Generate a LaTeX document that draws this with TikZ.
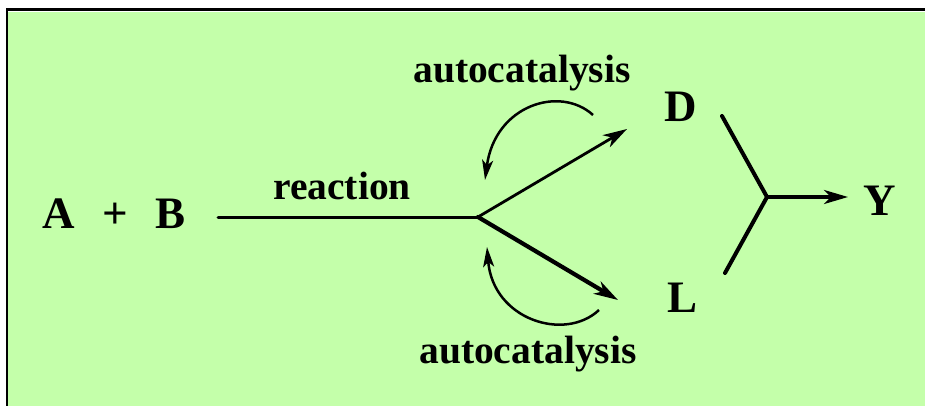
\documentclass[tikz,border=0pt]{standalone}
\usepackage{fontspec}
\setmainfont{Liberation Serif}
\usetikzlibrary{arrows.meta}
\definecolor{bg}{RGB}{196,255,170}
\begin{document}
\begin{tikzpicture}[x=1pt,y=-1pt,
  big/.style={font=\fontsize{45}{54}\selectfont\bfseries, inner sep=0pt, anchor=base},
  lbl/.style={font=\fontsize{39.5}{47}\selectfont\bfseries, inner sep=0pt, anchor=base},
  tiparrow/.style={-{Stealth[length=24pt,width=14pt,inset=7pt]}},
  ctiparrow/.style={-{Stealth[length=20pt,width=11pt,inset=5pt]}}]
\useasboundingbox (0,0) rectangle (925,406);
\fill[white] (0,0) rectangle (925,406);
\fill[bg] (8.3,12.5) rectangle (925,406);
\fill[black] (6,8) rectangle (925,11);
\fill[black] (6,8) rectangle (8.3,406);
% texts
\node[big] (A) at (59,228) {A};
\node[big] (plus) at (115,228) {+};
\node[big] (B) at (171,228) {B};
\node[big] (D) at (681,122) {D};
\node[big] (L) at (682,312) {L};
\node[big] (Y) at (880,215) {Y};
\node[lbl] (reac) at (342,199) {reaction};
\node[lbl] (ac1) at (522,83) {autocatalysis};
\node[lbl] (ac2) at (528,363) {autocatalysis};
% coordinates
\coordinate (s0) at (218,217);
\coordinate (j) at (478,217);
\coordinate (dt) at (627,129);
\coordinate (lt) at (618,300);
\coordinate (c1s) at (593,115);
\coordinate (c1e) at (485,180);
\coordinate (c2s) at (599,310);
\coordinate (c2e) at (487,247);
\coordinate (ds) at (722,116);
\coordinate (ls) at (725,273);
\coordinate (yj) at (767,197);
\coordinate (yt) at (848,197);
% connectors
\draw[line width=3pt, line cap=round] (s0) -- (j);
\draw[line width=2.8pt, line cap=round, tiparrow] (j) -- (dt);
\draw[line width=4.2pt, line cap=round, tiparrow] (j) -- (lt);
\draw[line width=2.5pt, ctiparrow] (c1s) .. controls (560,85) and (495,105) .. (c1e);
\draw[line width=2.5pt, ctiparrow] (c2s) .. controls (565,342) and (493,320) .. (c2e);
\draw[line width=4pt, line cap=round, line join=round] (ds) -- (yj) -- (ls);
\draw[line width=3.5pt, tiparrow] (yj) -- (yt);
\end{tikzpicture}
\end{document}
